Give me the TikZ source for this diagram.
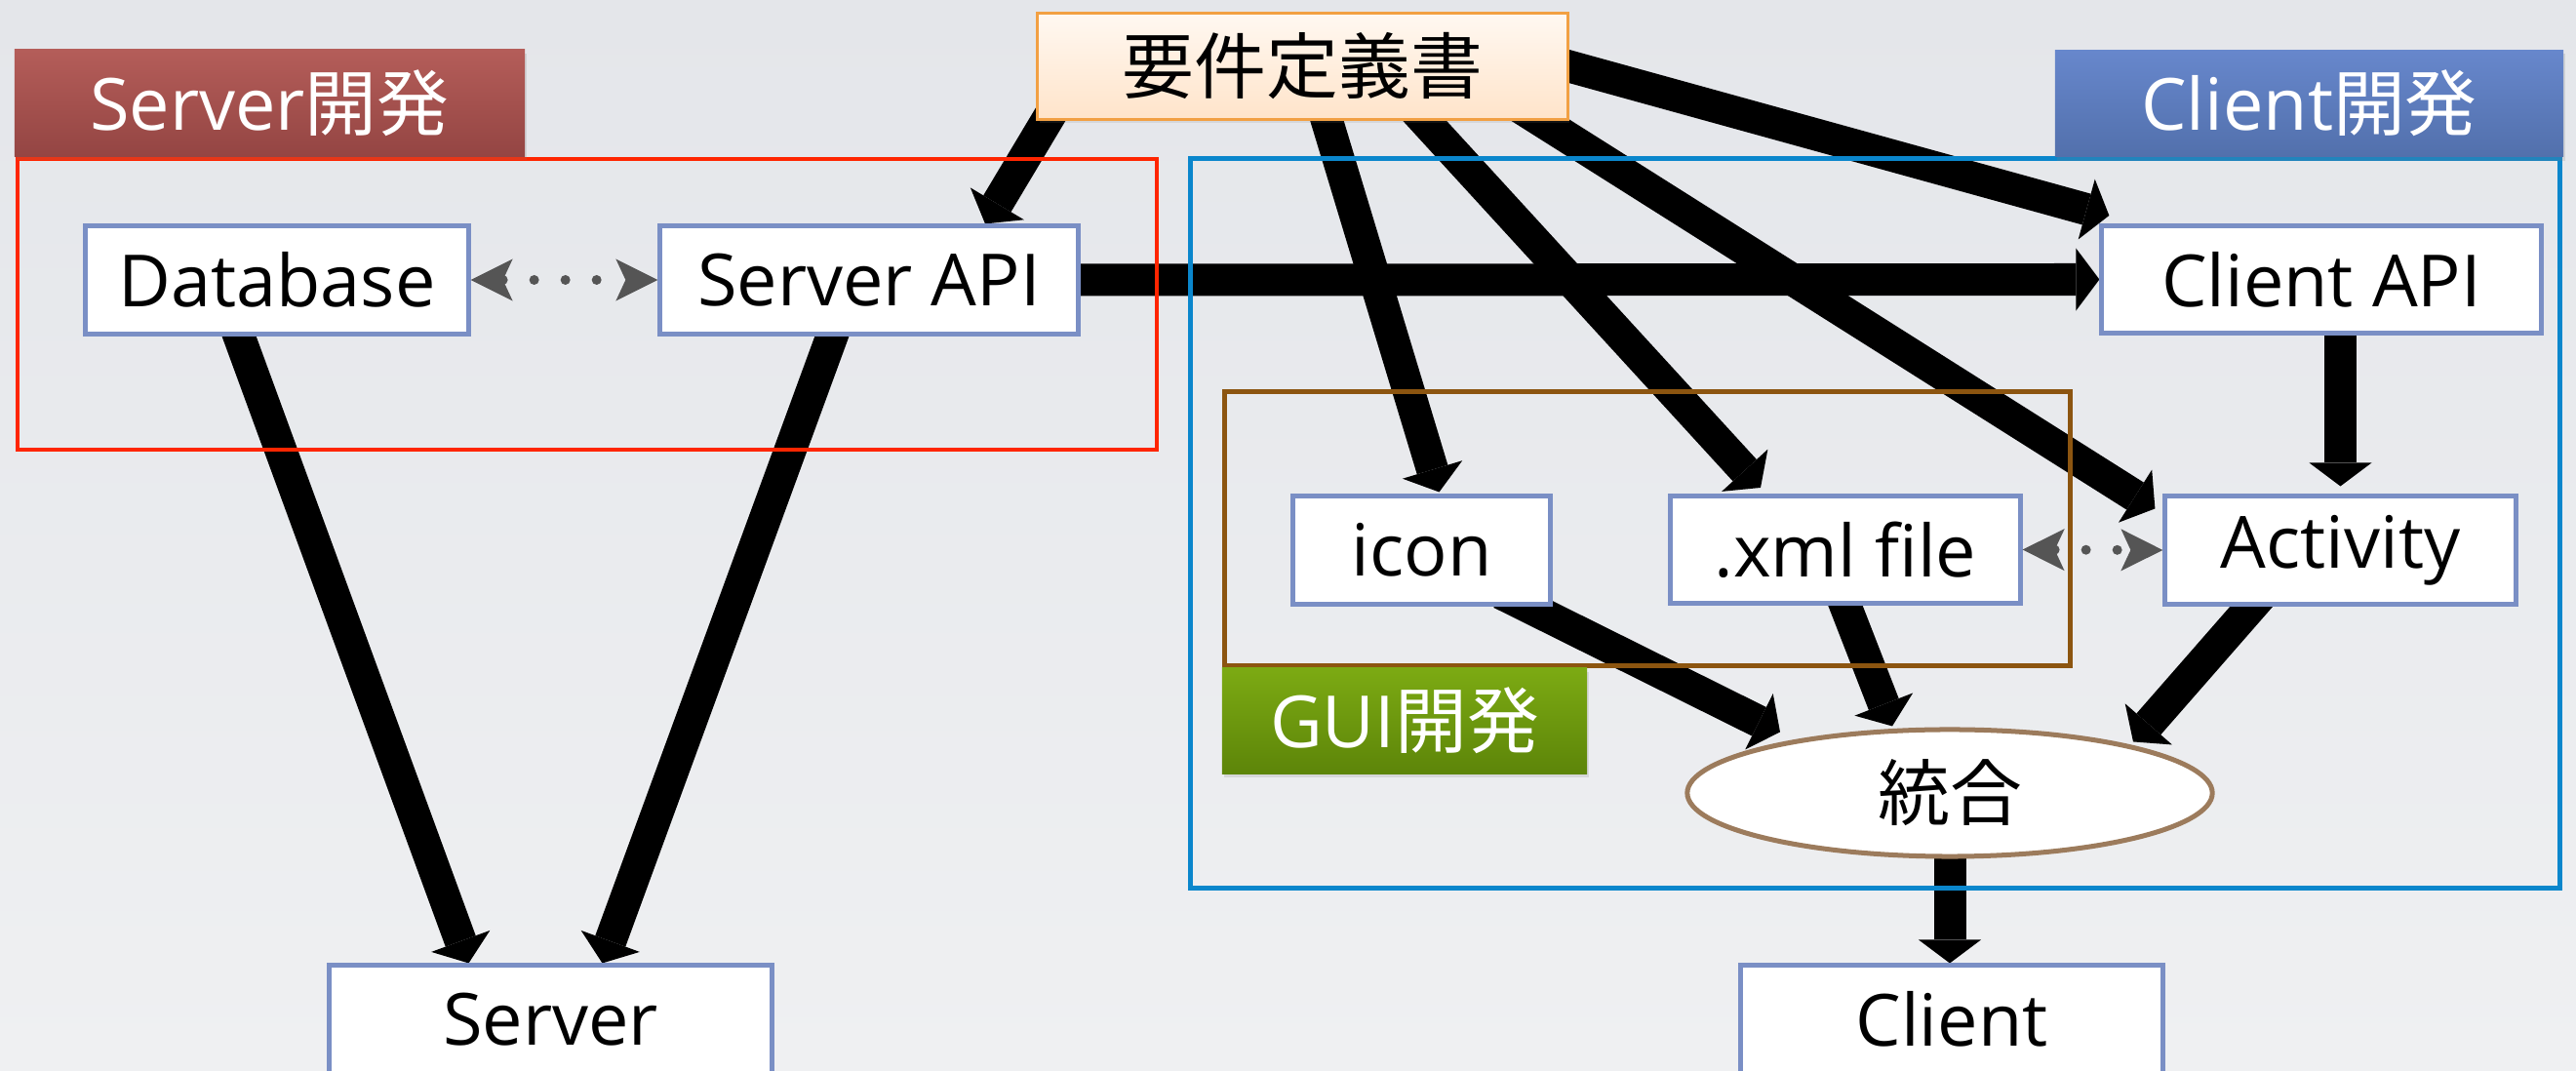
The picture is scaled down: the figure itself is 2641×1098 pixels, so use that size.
\documentclass[tikz,border=0pt]{standalone}
\usepackage{fontspec}
\setmainfont{Open Sans}
\newfontfamily\cjk{Noto Sans CJK JP}
\usetikzlibrary{arrows.meta,calc,shadows,shapes.geometric}

\definecolor{bgtop}{HTML}{E4E6EA}
\definecolor{bgbot}{HTML}{EFF0F2}
\definecolor{boxline}{HTML}{7A8FC5}
\definecolor{reqline}{HTML}{F2A043}
\definecolor{reqtop}{HTML}{FFF8F1}
\definecolor{reqbot}{HTML}{FFE4CA}
\definecolor{srvtop}{HTML}{B45D59}
\definecolor{srvbot}{HTML}{944543}
\definecolor{clitop}{HTML}{6787CC}
\definecolor{clibot}{HTML}{5270AC}
\definecolor{guitop}{HTML}{7CAA13}
\definecolor{guibot}{HTML}{5D8509}
\definecolor{srvred}{HTML}{FF2500}
\definecolor{cliblue}{HTML}{0A86CC}
\definecolor{guibrown}{HTML}{8C5510}
\definecolor{mergeline}{HTML}{9C7B5C}
\definecolor{linkgrey}{HTML}{555555}

\pgfdeclarelayer{back}
\pgfdeclarelayer{wires}
\pgfsetlayers{back,wires,main}

\begin{document}
\begin{tikzpicture}[x=0.01cm,y=-0.01cm,
  box/.style={draw=boxline,line width=0.05cm,fill=white,inner sep=0pt,minimum height=1.1cm,font=\fontsize{21pt}{25pt}\selectfont},
  tag/.style={text=white,inner sep=0pt,minimum height=1.09cm,font=\fontsize{21pt}{25pt}\selectfont,drop shadow={opacity=0.2,shadow xshift=0.02cm,shadow yshift=-0.04cm}},
  flow/.style={line width=0.33cm,shorten <=-0.3cm,-{Triangle[length=0.24cm,width=0.64cm,line width=0pt 0]}},
  link/.style={draw=linkgrey,line width=0.1cm,line cap=round,dash pattern=on 0pt off 0.32cm,
    {Stealth[length=0.43cm,width=0.43cm,inset=0.1cm,line width=0pt 0]}-{Stealth[length=0.43cm,width=0.43cm,inset=0.1cm,line width=0pt 0]}}]
\useasboundingbox (0,0) rectangle (2641,1098);
\begin{pgfonlayer}{back}
\shade[top color=bgtop,bottom color=bgbot] (0,0) rectangle (2641,1098);
\end{pgfonlayer}

% group frames
\draw[srvred,line width=0.045cm] (18,163) rectangle (1186,461);
\draw[cliblue,line width=0.05cm] (1220,163) rectangle (2624,911);
\draw[guibrown,line width=0.05cm] (1255,402) rectangle (2122,683);

\node[tag,top color=srvtop,bottom color=srvbot,minimum width=5.23cm] (srvtag) at (276.5,105.5) {Server{\cjk 開発}};
\node[tag,top color=clitop,bottom color=clibot,minimum width=5.21cm] (clitag) at (2367.5,106) {Client{\cjk 開発}};
\node[tag,top color=guitop,bottom color=guibot,minimum width=3.74cm,minimum height=1.08cm] (guitag) at (1440,739) {GUI{\cjk 開発}};

\node[box,draw=reqline,line width=0.03cm,top color=reqtop,bottom color=reqbot,minimum width=5.43cm,minimum height=1.08cm,
  drop shadow={opacity=0.15,shadow xshift=0.02cm,shadow yshift=-0.04cm}] (req) at (1335.5,68) {{\cjk 要件定義書}};
\node[box,minimum width=3.92cm] (db) at (284,287) {Database};
\node[box,minimum width=4.28cm] (sapi) at (891,287) {Server API};
\node[box,minimum width=4.5cm] (capi) at (2380,286.5) {Client API};
\node[box,minimum width=2.63cm] (icon) at (1457.5,564) {icon};
\node[box,minimum width=3.58cm] (xml) at (1892,563.5) {.xml file};
\node[box,minimum width=3.59cm] (act) at (2399.5,564) {Activity};
\node[ellipse,draw=mergeline,line width=0.05cm,fill=white,inner sep=0pt,minimum width=5.38cm,minimum height=1.3cm,
  font=\fontsize{21pt}{25pt}\selectfont] (merge) at (1999,813) {{\cjk 統合}};
\node[box,minimum width=4.53cm] (server) at (564.5,1045) {Server};
\node[box,minimum width=4.33cm] (client) at (2001,1045) {Client};

\begin{pgfonlayer}{wires}
\draw[flow] ($(req.south west)+(11,0)$) -- ($(sapi.north)+(119,0)$);
\draw[flow] ($(req.south west)+(298,0)$) -- ($(icon.north)+(18,-2)$);
\draw[flow] ($(req.south west)+(398,0)$) -- ($(xml.north)+(-87,-6)$);
\draw[flow] ($(req.south east)+(-29,0)$) -- ($(act.north west)+(-8,15)$);
\draw[flow] (req.east) -- ($(capi.north west)+(10,-8)$);
\draw[flow] (sapi.east) -- (capi.west);
\draw[flow] (act.north |- capi.south) -- ($(act.north)+(0,-8)$);
\draw[flow] ($(db.south)+(-39,0)$) -- ($(server.north)+(-84,0)$);
\draw[flow] ($(sapi.south)+(-38,0)$) -- ($(server.north)+(53,0)$);
\draw[flow] ($(icon.south east)+(-26,0)$) -- ($(merge.north)+(-174,5)$);
\draw[flow] (xml.south) -- ($(merge.north)+(-59,-1)$);
\draw[flow] ($(act.south)+(-91,0)$) -- ($(merge.north)+(188,15)$);
\draw[flow] (merge.south) -- (merge.south |- client.north);
\end{pgfonlayer}

\draw[link] (db.east) -- (sapi.west);
\draw[link] (xml.east) -- (act.west);
\end{tikzpicture}
\end{document}
